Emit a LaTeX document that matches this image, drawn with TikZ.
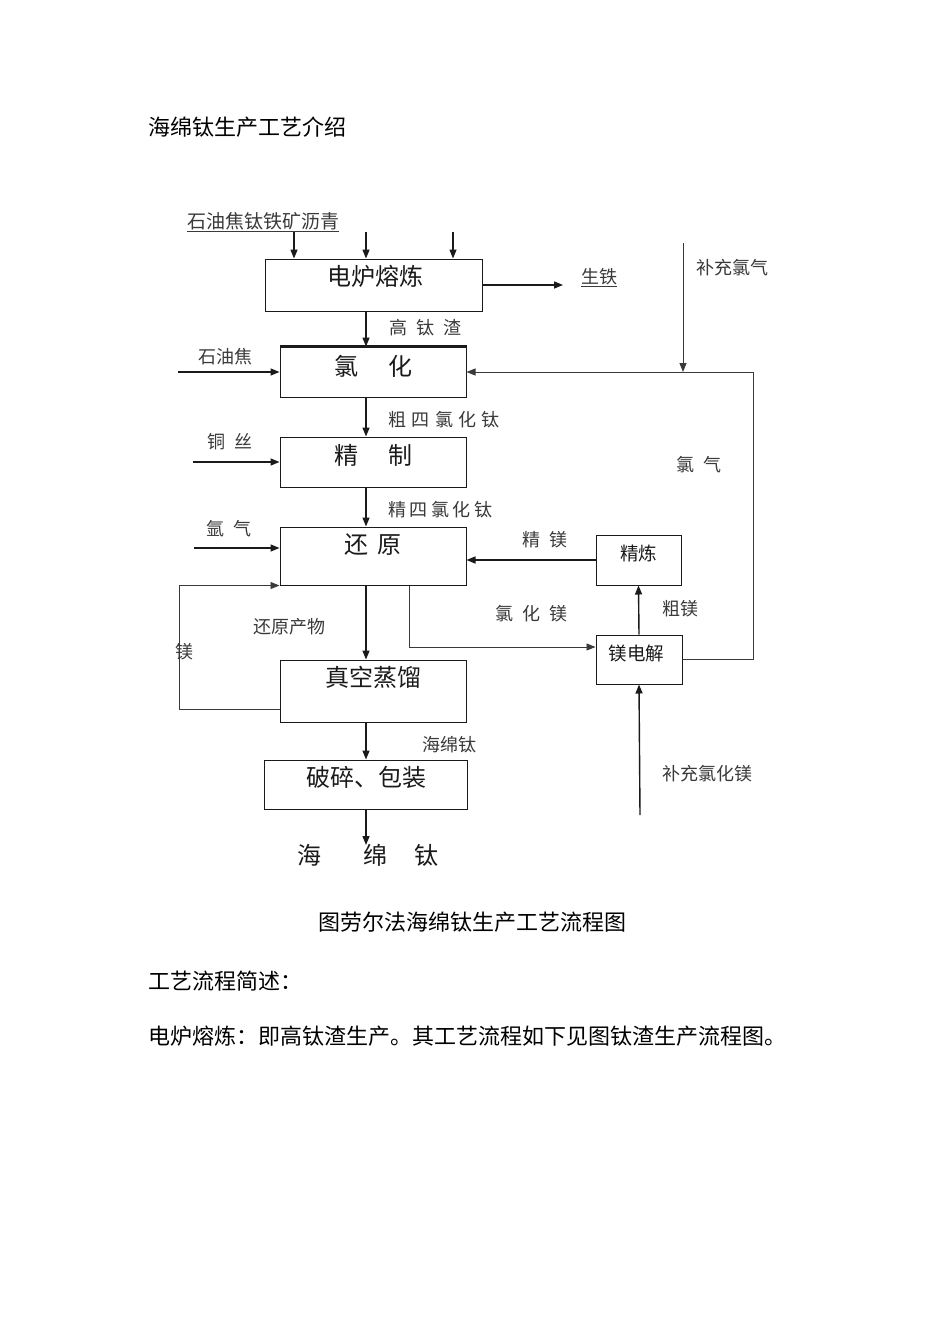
\documentclass[tikz,border=0pt]{standalone}
\usepackage{fontspec}
\setmainfont{Noto Sans CJK SC}
\usetikzlibrary{arrows.meta,positioning,calc}
\definecolor{ink}{HTML}{1A1A1A}
\definecolor{scan}{HTML}{3A3A3A}
\tikzset{
  procbox/.style={draw=ink, line width=1pt, inner sep=0pt},
  boxtext/.style={font=\fontsize{24}{26}\selectfont, text=ink, inner sep=0pt},
  smalltext/.style={font=\fontsize{18.5}{20}\selectfont, text=ink, inner sep=0pt},
  flowlabel/.style={font=\fontsize{18}{20}\selectfont, text=scan, inner sep=0pt, anchor=west},
  bodytext/.style={font=\fontsize{22}{24}\selectfont, text=black, inner sep=0pt, anchor=west},
  arr/.style={-{Triangle[length=9pt,width=7pt]}, line width=1.4pt, draw=ink},
  thinarr/.style={-{Triangle[length=9pt,width=7pt]}, line width=0.9pt, draw=scan},
  thinline/.style={line width=0.9pt, draw=scan}}

\begin{document}
\begin{tikzpicture}[x=1pt,y=-1pt]
  \useasboundingbox[fill=white] (0,0) rectangle (950,1344);
  % page text
  \node[bodytext] (title) at (148,127) {海绵钛生产工艺介绍};
  \node[bodytext] (caption) at (318,922) {图劳尔法海绵钛生产工艺流程图};
  \node[bodytext] (brief) at (148,981) {工艺流程简述：};
  \node[bodytext] (para) at (148,1036) {电炉熔炼：即高钛渣生产。其工艺流程如下见图钛渣生产流程图。};

  % process boxes
  \node[procbox, minimum width=217pt, minimum height=52pt] (elf) at (373.5,285) {};
  \node[procbox, minimum width=186pt, minimum height=50pt] (chlor) at (373,372) {};
  \node[procbox, minimum width=186pt, minimum height=50pt] (refine) at (373,462) {};
  \node[procbox, minimum width=186pt, minimum height=58pt] (reduce) at (373,556) {};
  \node[procbox, minimum width=186pt, minimum height=62pt] (vacuum) at (373,691) {};
  \node[procbox, minimum width=203pt, minimum height=49pt] (crush) at (365.5,784.5) {};
  \node[procbox, minimum width=85pt, minimum height=50pt] (smelt) at (638.5,560) {};
  \node[procbox, minimum width=86pt, minimum height=49pt] (elec) at (639,659.5) {};
  \draw[line width=2.4pt, draw=ink] (chlor.north west) -- (chlor.north east);

  % box titles
  \node[boxtext] (elft) at (375,276) {电炉熔炼};
  \node[boxtext] (chlort) at (373,366) {氯\hspace{1.25em}化};
  \node[boxtext] (refinet) at (373,455) {精\hspace{1.25em}制};
  \node[boxtext] (reducet) at (373,545) {还\hspace{0.4em}原};
  \node[boxtext] (vacuumt) at (373,677) {真空蒸馏};
  \node[boxtext] (crusht) at (366,777) {破碎、包装};
  \node[smalltext] (smeltt) at (638.5,553) {精炼};
  \node[smalltext] (elect) at (636.5,653) {镁电解};

  % labels
  \node[flowlabel, font=\fontsize{19}{20}\selectfont] (feedl) at (187,222) {\underline{石油焦钛铁矿沥青}};
  \node[flowlabel] (slagl) at (389,328) {高\hspace{0.5em}钛\hspace{0.5em}渣};
  \node[flowlabel] (pigl) at (581,278) {\underline{生铁}};
  \node[flowlabel] (addcll) at (696,268) {补充氯气};
  \node[flowlabel] (cokel) at (198,357) {石油焦};
  \node[flowlabel] (crudel) at (388,420) {粗\hspace{0.3em}四\hspace{0.3em}氯\hspace{0.3em}化\hspace{0.3em}钛};
  \node[flowlabel] (cul) at (207,442) {铜\hspace{0.5em}丝};
  \node[flowlabel] (cl2l) at (676,465) {氯\hspace{0.5em}气};
  \node[flowlabel] (purel) at (388,510) {精\hspace{0.2em}四\hspace{0.2em}氯\hspace{0.2em}化\hspace{0.2em}钛};
  \node[flowlabel] (arl) at (206,529) {氩\hspace{0.5em}气};
  \node[flowlabel] (finemgl) at (522,540) {精\hspace{0.5em}镁};
  \node[flowlabel] (prodl) at (253,627) {还原产物};
  \node[flowlabel] (mgl) at (175,652) {镁};
  \node[flowlabel] (mgcll) at (495,614) {氯\hspace{0.5em}化\hspace{0.5em}镁};
  \node[flowlabel] (rawmgl) at (662,609) {粗镁};
  \node[flowlabel] (spongel) at (422,745) {海绵钛};
  \node[flowlabel] (addmgl) at (662,774) {补充氯化镁};
  \node[boxtext, anchor=west] (product) at (297,855) {海\hspace{42pt}绵\hspace{27pt}钛};

  % free ends
  \coordinate (in1) at (294,232);
  \coordinate (in2) at (366,232);
  \coordinate (in3) at (453,232);
  \coordinate (mainx) at (366,0);
  \coordinate (pig) at (563,285);
  \coordinate (cokein) at (178,372);
  \coordinate (cuin) at (193,462);
  \coordinate (arin) at (194,548);
  \coordinate (clcorner) at (753,372);
  \coordinate (addcl) at (683,243);
  \coordinate (mgturn) at (179,709);
  \coordinate (mgclrow) at (409,647);
  \coordinate (mgadd) at (640,815);
  \coordinate (sponge) at (366,845);

  % connectors
  \draw[arr] (in1) -- (in1 |- elf.north);
  \draw[arr] (in2) -- (in2 |- elf.north);
  \draw[arr] (in3) -- (in3 |- elf.north);
  \draw[arr] (elf.east) -- (pig);
  \draw[arr] (elf.south -| mainx) -- (chlor.north -| mainx);
  \draw[arr] (chlor.south -| mainx) -- (refine.north -| mainx);
  \draw[arr] (refine.south -| mainx) -- (reduce.north -| mainx);
  \draw[arr] (reduce.south -| mainx) -- (vacuum.north -| mainx);
  \draw[arr] (vacuum.south -| mainx) -- (crush.north -| mainx);
  \draw[arr] (crush.south -| mainx) -- (sponge);
  \draw[arr] (cokein) -- (chlor.west);
  \draw[arr] (cuin) -- (refine.west);
  \draw[arr] (arin) -- (arin -| reduce.west);
  \draw[thinarr] (mgturn -| vacuum.west) -- (mgturn) -- (mgturn |- reduce.south west) -- (reduce.south west);
  \draw[thinarr] (reduce.south -| mgclrow) -- (mgclrow) -- (mgclrow -| elec.west);
  \draw[arr] (smelt.west) -- (smelt.west -| reduce.east);
  \draw[arr] (elec.north) -- (smelt.south);
  \draw[arr] (mgadd) -- (elec.south);
  \draw[thinline] (elec.east) -- (elec.east -| clcorner) -- (clcorner);
  \draw[thinarr] (clcorner) -- (chlor.east);
  \draw[thinarr] (addcl) -- (addcl |- clcorner);
\end{tikzpicture}
\end{document}
